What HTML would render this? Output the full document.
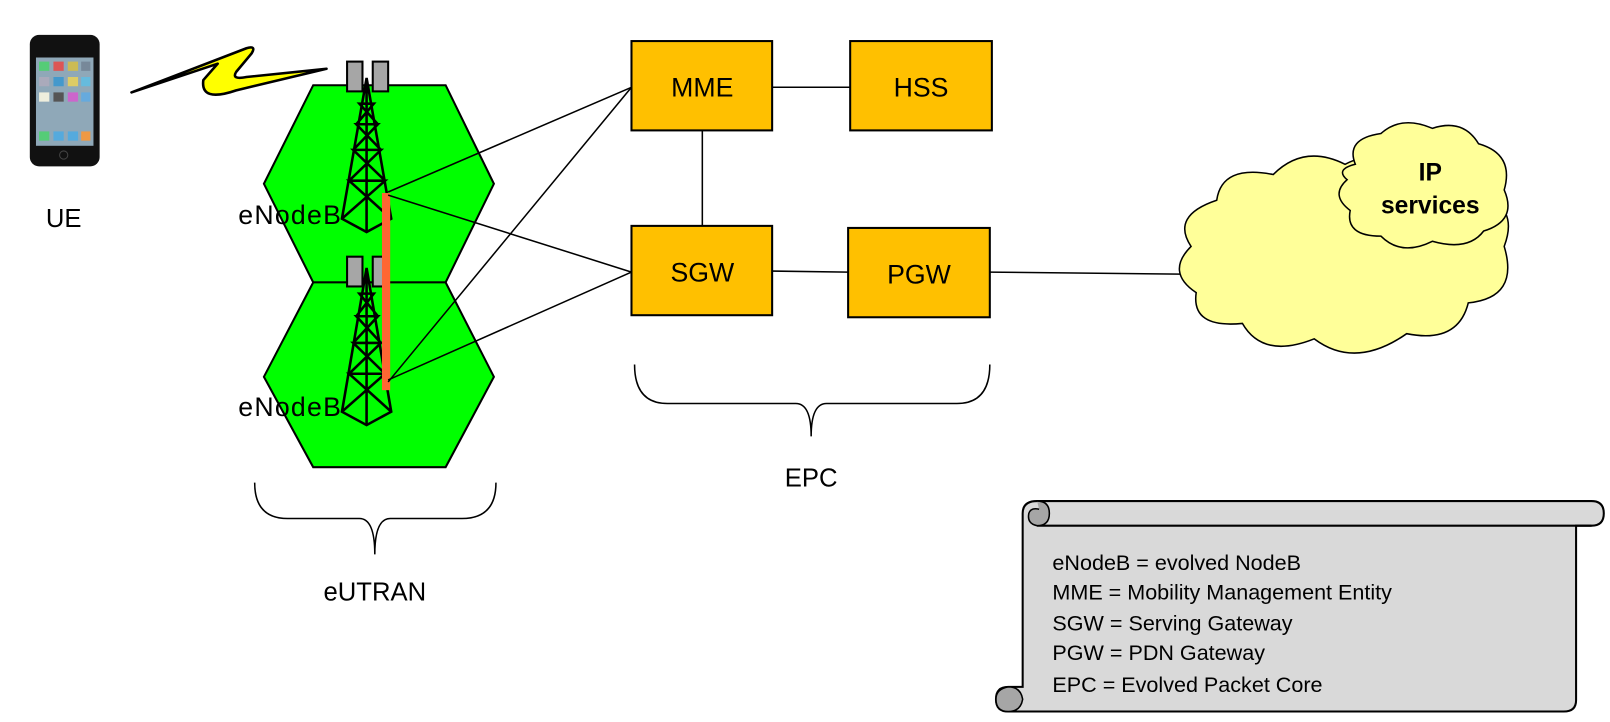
<!DOCTYPE html><html><head><style>body{margin:0;background:#fff}svg{display:block}text{font-family:"Liberation Sans",sans-serif}</style></head><body>
<svg width="1610" height="722" viewBox="0 0 1568 703.2" xmlns="http://www.w3.org/2000/svg">
<!-- phone -->
<rect x="29" y="34" width="68" height="128" rx="9" fill="#111"/>
<rect x="35" y="56" width="56" height="86" fill="#8fa8b8"/>
<g fill="#5c7"><rect x="38" y="60" width="10" height="9"/><rect x="52" y="60" width="10" height="9" fill="#d55"/><rect x="66" y="60" width="10" height="9" fill="#cb5"/><rect x="79" y="60" width="9" height="9" fill="#789"/>
<rect x="38" y="75" width="10" height="9" fill="#aab"/><rect x="52" y="75" width="10" height="9" fill="#49c"/><rect x="66" y="75" width="10" height="9" fill="#dc6"/><rect x="79" y="75" width="9" height="9" fill="#6bd"/>
<rect x="38" y="90" width="10" height="9" fill="#eed"/><rect x="52" y="90" width="10" height="9" fill="#555"/><rect x="66" y="90" width="10" height="9" fill="#c6c"/><rect x="79" y="90" width="9" height="9" fill="#6ad"/>
<rect x="38" y="128" width="10" height="9"/><rect x="52" y="128" width="10" height="9" fill="#5ad"/><rect x="66" y="128" width="10" height="9" fill="#5ad"/><rect x="79" y="128" width="9" height="9" fill="#e94"/></g>
<circle cx="62" cy="151" r="4" fill="none" stroke="#444"/>
<text x="62" y="221" font-size="25" text-anchor="middle">UE</text>
<!-- lightning -->
<path d="M128,90 L240,47 Q250,44 245,52 L230,70 Q225,78 240,75 L318,67 L230,88 Q195,100 198,78 L212,62 Z" fill="#ff0" stroke="#000" stroke-width="2.5" stroke-linejoin="round"/>
<!-- hexes -->
<polygon points="305,83 434,83 481,179 434,275 305,275 257,179" fill="#0f0" stroke="#000" stroke-width="2"/>
<polygon points="305,275 434,275 481,367 434,455 305,455 257,367" fill="#0f0" stroke="#000" stroke-width="2"/>
<!-- towers -->
<g fill="none" stroke="#000" stroke-width="2.5" transform="translate(-10,-4)">
<path d="M367,80 L343,217 L367,230 L391,217 Z M367,80 L367,230 M350,180 L385,180 M354,150 L381,150 M357,125 L378,125 M360,105 L374,105 M343,217 L385,180 L350,180 L391,217 M350,180 L381,150 L354,150 L385,180 M354,150 L378,125 L357,125 L381,150 M357,125 L374,105 L360,105 L378,125"/>
<path d="M367,265 L343,405 L367,418 L391,405 Z M367,265 L367,418 M350,368 L385,368 M354,338 L381,338 M357,312 L378,312 M360,290 L374,290 M343,405 L385,368 L350,368 L391,405 M350,368 L381,338 L354,338 L385,368 M354,338 L378,312 L357,312 L381,338 M357,312 L374,290 L360,290 L378,312"/>
</g>
<g fill="#a6a6a6" stroke="#000" stroke-width="2"><rect x="338" y="60" width="15" height="29"/><rect x="363" y="60" width="15" height="29"/><rect x="338" y="250" width="15" height="29"/><rect x="363" y="250" width="15" height="29"/></g>
<rect x="372" y="188" width="8" height="192" fill="#f63"/>
<text x="232" y="218" font-size="26" textLength="100">eNodeB</text>
<text x="232" y="405" font-size="26" textLength="100">eNodeB</text>
<!-- lines -->
<g stroke="#000" stroke-width="1.5">
<line x1="378" y1="187" x2="615" y2="85"/><line x1="378" y1="190" x2="615" y2="265"/>
<line x1="378" y1="372" x2="615" y2="85"/><line x1="378" y1="370" x2="615" y2="265"/>
<line x1="752" y1="85" x2="828" y2="85"/><line x1="684" y1="127" x2="684" y2="220"/>
<line x1="752" y1="264" x2="826" y2="265"/><line x1="964" y1="265" x2="1150" y2="267"/>
</g>
<g fill="#ffc000" stroke="#000" stroke-width="2">
<rect x="615" y="40" width="137" height="87"/><rect x="828" y="40" width="138" height="87"/>
<rect x="615" y="220" width="137" height="87"/><rect x="826" y="222" width="138" height="87"/></g>
<g font-size="26" text-anchor="middle"><text x="684" y="94">MME</text><text x="897" y="94">HSS</text><text x="684" y="274">SGW</text><text x="895" y="276">PGW</text></g>
<!-- braces -->
<g fill="none" stroke="#000" stroke-width="1.5">
<path d="M248,470 Q248,505 280,505 L350,505 Q365,505 365,540 Q365,505 380,505 L450,505 Q483,505 483,470"/>
<path d="M618,355 Q618,393 650,393 L775,393 Q790,393 790,425 Q790,393 805,393 L932,393 Q964,393 964,355"/>
</g>
<text x="365" y="585" font-size="25" text-anchor="middle">eUTRAN</text>
<text x="790" y="474" font-size="25" text-anchor="middle">EPC</text>
<!-- cloud -->
<path d="M1160,240 Q1140,210 1185,195 Q1190,160 1240,170 Q1270,140 1310,160 Q1350,140 1385,165 Q1430,160 1440,190 Q1480,200 1465,240 Q1480,290 1430,295 Q1420,335 1370,325 Q1320,360 1280,330 Q1230,350 1210,315 Q1160,320 1165,285 Q1135,265 1160,240 Z" fill="#ffff99" stroke="#000" stroke-width="1.5"/>
<path d="M1320,160 Q1310,135 1345,130 Q1365,112 1395,125 Q1425,115 1440,140 Q1475,150 1465,185 Q1478,215 1445,225 Q1430,245 1395,235 Q1365,250 1345,230 Q1310,230 1315,205 Q1295,190 1312,175 Q1300,165 1320,160 Z" fill="#ffff99" stroke="#000" stroke-width="1.5"/>
<text x="1393" y="176" font-size="24" font-weight="bold" text-anchor="middle">IP</text>
<text x="1393" y="208" font-size="24" font-weight="bold" text-anchor="middle">services</text>
<!-- scroll -->
<path d="M1010,488 L1550,488 Q1562,488 1562,500 Q1562,512 1550,512 L1535,512 L1535,682 Q1535,693 1523,693 L982,693 Q970,693 970,681 Q970,669 982,669 L996,669 L996,500 Q996,488 1010,488 Z" fill="#d9d9d9" stroke="#000" stroke-width="2"/>
<line x1="1010" y1="512" x2="1550" y2="512" stroke="#000" stroke-width="2"/>
<path d="M1010,488 Q1022,488 1022,500 Q1022,512 1010,512 Q1000,510 1002,500 Q1004,494 1012,496" fill="#a6a6a6" stroke="#000" stroke-width="1.5"/>
<path d="M982,669 Q994,669 996,681 Q994,693 982,693 Q970,693 970,681 Q970,671 982,669" fill="#a6a6a6" stroke="#000" stroke-width="1.5"/>
<g font-size="21"><text x="1025" y="555">eNodeB = evolved NodeB</text><text x="1025" y="584">MME = Mobility Management Entity</text><text x="1025" y="614">SGW = Serving Gateway</text><text x="1025" y="643">PGW = PDN Gateway</text><text x="1025" y="674">EPC = Evolved Packet Core</text></g>
</svg></body></html>
